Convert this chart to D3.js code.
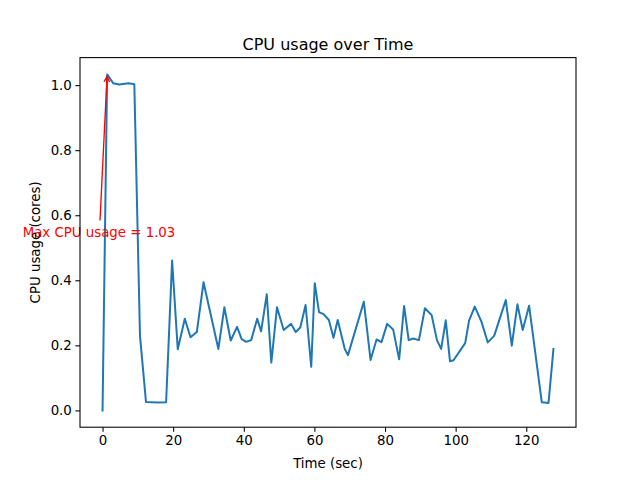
<!DOCTYPE html>
<html>
<head>
<meta charset="utf-8">
<script src="https://cdn.jsdelivr.net/npm/d3@7"></script>
<style>
  html, body { margin: 0; padding: 0; background: #fff; }
  svg { display: block; }
  text { font-family: "DejaVu Sans", sans-serif; }
</style>
</head>
<body>
<svg id="chart" width="640" height="480"></svg>
<script>
// ---- data ----
const timeSec = [0, 1.3, 3.0, 4.7, 7.4, 9.0, 10.6, 12.3, 15.6, 18.0, 19.7, 21.3, 23.3, 24.9, 26.7, 28.6,
  32.8, 34.5, 36.3, 38.1, 39.4, 40.7, 42.1, 43.8, 44.9, 46.5, 47.8, 49.4, 51.3, 53.4, 54.7, 56.0, 57.5,
  59.1, 60.1, 61.3, 62.6, 64.1, 65.4, 66.6, 68.6, 69.5, 74.0, 75.9, 77.6, 79.0, 80.6, 82.3, 84.0, 85.4,
  86.7, 88.0, 89.6, 91.3, 93.2, 94.7, 95.9, 97.2, 98.4, 99.4, 102.7, 103.8, 105.4, 107.3, 109.1, 110.9,
  114.2, 115.9, 117.5, 119.0, 120.8, 124.4, 126.3, 127.7];
const cpuCores = [0.0, 1.033, 1.006, 1.002, 1.006, 1.003, 0.23, 0.026, 0.024, 0.025, 0.461, 0.188, 0.282,
  0.225, 0.241, 0.394, 0.189, 0.317, 0.215, 0.257, 0.219, 0.211, 0.216, 0.282, 0.243, 0.357, 0.147, 0.317,
  0.247, 0.266, 0.241, 0.255, 0.324, 0.134, 0.391, 0.302, 0.296, 0.278, 0.223, 0.278, 0.189, 0.170, 0.334,
  0.155, 0.218, 0.210, 0.266, 0.249, 0.157, 0.321, 0.216, 0.221, 0.216, 0.314, 0.293, 0.216, 0.189, 0.277,
  0.151, 0.154, 0.207, 0.276, 0.319, 0.273, 0.209, 0.229, 0.339, 0.199, 0.326, 0.247, 0.322, 0.025, 0.023,
  0.189];
const xTicks = [0, 20, 40, 60, 80, 100, 120];
const yTicks = [0.0, 0.2, 0.4, 0.6, 0.8, 1.0];
const titleText = "CPU usage over Time";
const xLabelText = "Time (sec)";
const yLabelText = "CPU usage (cores)";

// ---- layout ----
const plotL = 80, plotR = 576, plotT = 57.6, plotB = 427.2;
const svg = d3.select("#chart");

const xMin = d3.min(timeSec), xMax = d3.max(timeSec);
const yMin = d3.min(cpuCores), yMax = d3.max(cpuCores);
const xPad = (xMax - xMin) * 0.05, yPad = (yMax - yMin) * 0.05;
const x = d3.scaleLinear().domain([xMin - xPad, xMax + xPad]).range([plotL, plotR]);
const y = d3.scaleLinear().domain([yMin - yPad, yMax + yPad]).range([plotB, plotT]);

const pts = timeSec.map((t, i) => [t, cpuCores[i]]);
const maxIdx = d3.maxIndex(cpuCores);

// line
svg.append("path")
  .datum(pts)
  .attr("fill", "none")
  .attr("stroke", "#1f77b4")
  .attr("stroke-width", 2)
  .attr("stroke-linejoin", "round")
  .attr("stroke-linecap", "square")
  .attr("d", d3.line().x(d => x(d[0])).y(d => y(d[1])));

// annotation
const annX = -1.0, annY = 0.534;      // text anchor (data coords)
const arrowStartX = -0.72, arrowStartY = 0.584;
const ax0 = x(arrowStartX), ay0 = y(arrowStartY);
const ax1 = x(timeSec[maxIdx]), ay1 = y(cpuCores[maxIdx]);
const ang = Math.atan2(ay1 - ay0, ax1 - ax0);
const tipX = ax1 - Math.cos(ang) * 2, tipY = ay1 - Math.sin(ang) * 2;
svg.append("line")
  .attr("x1", ax0).attr("y1", ay0).attr("x2", tipX).attr("y2", tipY)
  .attr("stroke", "red").attr("stroke-width", 1.33);
const hl = 5.5, hw = 2.8;
const bx = tipX - Math.cos(ang) * hl, by = tipY - Math.sin(ang) * hl;
const pxv = -Math.sin(ang), pyv = Math.cos(ang);
svg.append("path")
  .attr("d", `M${bx + pxv * hw},${by + pyv * hw}L${tipX},${tipY}L${bx - pxv * hw},${by - pyv * hw}`)
  .attr("fill", "none").attr("stroke", "red").attr("stroke-width", 1.33);

svg.append("text")
  .attr("x", x(annX)).attr("y", y(annY))
  .attr("text-anchor", "middle")
  .attr("font-size", "13.33px")
  .attr("fill", "red")
  .text("Max CPU usage = " + d3.format(".2f")(cpuCores[maxIdx]));

// axes
const xAxis = d3.axisBottom(x).tickValues(xTicks).tickFormat(d3.format("d")).tickSizeOuter(0).tickSize(4.67).tickPadding(3.5);
const yAxis = d3.axisLeft(y).tickValues(yTicks).tickFormat(d3.format(".1f")).tickSizeOuter(0).tickSize(4.67).tickPadding(3.5);

const gx = svg.append("g").attr("transform", `translate(0,${plotB})`).call(xAxis);
const gy = svg.append("g").attr("transform", `translate(${plotL},0)`).call(yAxis);
[gx, gy].forEach(g => {
  g.select(".domain").remove();
  g.selectAll(".tick line").attr("stroke", "#000").attr("stroke-width", 1.07);
  g.selectAll(".tick text").attr("fill", "#000").attr("font-size", "13.33px").attr("font-family", "DejaVu Sans, sans-serif");
});

// frame
svg.append("rect")
  .attr("x", plotL).attr("y", plotT)
  .attr("width", plotR - plotL).attr("height", plotB - plotT)
  .attr("fill", "none").attr("stroke", "#000").attr("stroke-width", 1.07);

// title and labels
svg.append("text")
  .attr("x", (plotL + plotR) / 2).attr("y", plotT - 7.5)
  .attr("text-anchor", "middle").attr("font-size", "16px").attr("fill", "#000")
  .text(titleText);
svg.append("text")
  .attr("x", (plotL + plotR) / 2).attr("y", 468)
  .attr("text-anchor", "middle").attr("font-size", "13.33px").attr("fill", "#000")
  .text(xLabelText);
svg.append("text")
  .attr("transform", `translate(39.5,${(plotT + plotB) / 2}) rotate(-90)`)
  .attr("text-anchor", "middle").attr("font-size", "13.33px").attr("fill", "#000")
  .text(yLabelText);
</script>
</body>
</html>
